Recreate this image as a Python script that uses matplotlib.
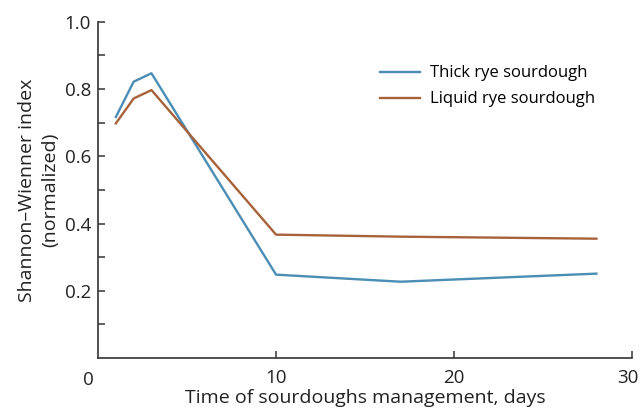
import matplotlib
matplotlib.use("Agg")
import matplotlib.pyplot as plt
import matplotlib.transforms as mtransforms

# data
days = [1, 2, 3, 10, 17, 28]
thick_rye = [0.717, 0.822, 0.847, 0.248, 0.227, 0.251]
liquid_rye = [0.698, 0.772, 0.797, 0.367, 0.361, 0.355]
series_names = ["Thick rye sourdough", "Liquid rye sourdough"]
x_ticks = [10, 20, 30]
y_ticks = [0.2, 0.4, 0.6, 0.8, 1.0]
y_minor = [0.1, 0.3, 0.5, 0.7, 0.9]

plt.rcParams["font.family"] = ["Open Sans", "DejaVu Sans"]

fig = plt.figure(figsize=(6.41, 4.12), dpi=100)
ax = fig.add_axes([0.153, 0.131, 0.833, 0.816])

ax.plot(days, thick_rye, color="#4a8db5", lw=1.7, label=series_names[0])
ax.plot(days, liquid_rye, color="#a8623a", lw=1.7, label=series_names[1])

ax.set_xlim(0, 30)
ax.set_ylim(0, 1.0)
ax.set_xticks(x_ticks)
ax.set_xticklabels([str(t) for t in x_ticks])
ax.set_yticks(y_ticks)
ax.set_yticklabels(["%.1f" % t for t in y_ticks])
ax.set_yticks(y_minor, minor=True)
ax.tick_params(axis="both", which="both", direction="in", length=5,
               width=1.1, color="#333333", labelsize=13.5, labelcolor="#222222")
ax.tick_params(axis="x", pad=8)
ax.tick_params(axis="y", pad=5)
# the origin label sits a little left of the corner
ax.text(-0.018, -0.065, "0", transform=ax.transAxes, ha="center", va="center",
        fontsize=13.5, color="#222222")

# nudge the last x label so it stays inside the figure
last = ax.get_xticklabels()[-1]
last.set_transform(last.get_transform() +
                   mtransforms.ScaledTranslation(-4 / 100, 0, fig.dpi_scale_trans))

for s in ["top", "right"]:
    ax.spines[s].set_visible(False)
for s in ["left", "bottom"]:
    ax.spines[s].set_linewidth(1.2)
    ax.spines[s].set_color("#333333")

ax.set_xlabel("Time of sourdoughs management, days", fontsize=14,
              color="#222222", labelpad=1)
ax.set_ylabel("Shannon–Wienner index\n(normalized)", fontsize=14,
              color="#222222", labelpad=4, linespacing=1.4)

ax.legend(loc="upper left", bbox_to_anchor=(0.5, 0.915), frameon=False,
          fontsize=12, handlelength=2.4, handletextpad=0.6, labelspacing=0.6)

fig.savefig("out.png", dpi=100)
